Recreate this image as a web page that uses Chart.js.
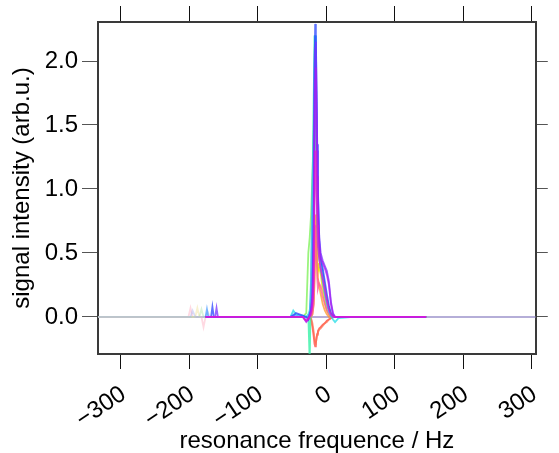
<!DOCTYPE html>
<html>
<head>
<meta charset="utf-8">
<script src="https://cdn.jsdelivr.net/npm/chart.js@4.4.1/dist/chart.umd.min.js"></script>
<style>
  html, body { margin: 0; padding: 0; background: #fff; }
  #wrap { width: 559px; height: 453px; }
</style>
</head>
<body>
<div id="wrap"><canvas id="spectrum" width="559" height="453"></canvas></div>
<script>
// axis texts and tick values
const xTitle = 'resonance frequence / Hz';
const yTitle = 'signal intensity (arb.u.)';
const xTicks = [-300, -200, -100, 0, 100, 200, 300];
const yTicks = [0, 0.5, 1.0, 1.5, 2.0];
const xRange = [-333, 306];
const yRange = [-0.29, 2.305];

// flat grey trace over the whole window
const fullFreq = [-333, 306];
const greyLine = [0, 0];

// faint traces on the left part (Hz)
const edgeFreq = [-333, -201, -198, -195, -191, -188, -185, -182, -179, -176, -173, -170];
const palePink   = [0, 0, 0.07, 0, 0, 0, 0, 0, -0.08, 0, 0, 0];
const paleYellow = [0, 0, 0, 0, 0, 0.07, 0, 0, 0, 0, 0, 0];
const paleGreen  = [0, 0, 0, 0, 0, 0, 0, 0.06, 0, 0, 0, 0];
const paleBlue   = [0, 0, 0, 0.05, 0, 0, 0, 0, 0, 0, 0.04, 0];

// main traces around the resonance (Hz)
const peakFreq = [-176, -174, -172, -168, -166, -164, -162, -160, -158, -120,
                  -70, -52, -48, -44, -34, -29, -26, -24, -22, -20,
                  -18, -17, -16, -15, -14, -13, -12, -10, -8, -5,
                  -2, 1, 4, 7, 10, 13, 18, 40, 100, 146];

const red = [0, 0, 0, 0, 0, 0, 0, 0, 0, 0,
  0, 0, 0, 0, 0, 0, 0, 0, -0.02, -0.08,
  -0.16, -0.21, -0.23, -0.21, -0.16, -0.13, -0.11, -0.09, -0.08, -0.06,
  -0.05, -0.03, -0.02, -0.01, 0, 0, 0, 0, 0, 0];
const tomato = [0, 0, 0, 0, 0, 0, 0, 0, 0, 0,
  0, 0, 0, 0, 0, 0, 0, 0, -0.01, -0.05,
  -0.12, -0.17, -0.19, -0.2, -0.17, -0.14, -0.12, -0.1, -0.09, -0.07,
  -0.05, -0.04, -0.02, -0.01, 0, 0, 0, 0, 0, 0];
const orange = [0, 0, 0, 0, 0, 0, 0, 0, 0, 0,
  0, 0, 0, 0, 0, 0, 0, 0, 0.01, 0.05,
  0.2, 0.45, 0.7, 0.8, 0.62, 0.42, 0.3, 0.24, 0.18, 0.1,
  0.05, 0.02, 0, 0, 0, 0, 0, 0, 0, 0];
const pink = [0, 0, 0, 0, 0, 0, 0, 0, 0, 0,
  0, 0, 0, 0, 0, 0, 0, 0, 0, 0.02,
  0.1, 0.3, 0.55, 0.72, 0.5, 0.3, 0.22, 0.26, 0.24, 0.16,
  0.1, 0.05, 0.02, 0, 0, 0, 0, 0, 0, 0];
const yellow = [0, 0, 0, 0, 0, 0, 0, 0, 0, 0,
  0, 0, 0, 0, 0, 0, 0, 0, 0, 0.02,
  0.12, 0.3, 0.48, 0.6, 0.55, 0.42, 0.36, 0.38, 0.34, 0.22,
  0.12, 0.05, 0.02, 0, 0, 0, 0, 0, 0, 0];
const green = [0, 0, 0, 0, 0, 0, 0, 0, 0, 0,
  0, 0, 0, 0, 0, 0.03, 0.5, 0.62, 0.8, 1.1,
  1.45, 1.6, 1.55, 1.3, 0.95, 0.72, 0.56, 0.45, 0.38, 0.28,
  0.18, 0.1, 0.05, 0.02, 0, 0, 0, 0, 0, 0];
const mint = [0, 0, 0, 0, 0, 0, 0, 0, 0, 0,
  0, 0, 0, 0, 0, 0, 0, -0.35, 0.3, 1.0,
  1.8, 2.2, 2.1, 1.8, 1.3, 0.9, 0.66, 0.5, 0.42, 0.33,
  0.22, 0.14, 0.07, 0.02, 0, 0, 0, 0, 0, 0];
const cyan = [0, 0, 0, 0, 0, 0, 0, 0, 0, 0,
  0, 0, 0.05, 0.02, 0.01, 0, 0.02, 0.05, 0.15, 0.4,
  1.0, 1.75, 2.2, 2.05, 1.5, 1.05, 0.72, 0.5, 0.43, 0.34,
  0.24, 0.14, 0.06, 0.01, -0.02, -0.04, -0.01, 0, 0, 0];
const sky = [0, 0.06, 0, 0, 0, 0, 0, 0, 0, 0,
  0, 0, 0.02, 0.01, 0, 0, 0, 0.03, 0.3, 1.0,
  1.5, 2.0, 2.2, 1.9, 1.4, 0.95, 0.68, 0.47, 0.38, 0.28,
  0.18, 0.1, 0.04, 0.01, 0, 0, 0, 0, 0, 0];
const blue = [0, 0, 0, 0, 0.08, 0, 0, 0, 0, 0,
  0, 0, 0.01, 0.03, 0.01, 0, -0.02, 0.02, 0.05, 0.15,
  0.9, 1.95, 2.29, 2.2, 1.8, 1.35, 1.0, 0.6, 0.46, 0.38,
  0.28, 0.18, 0.09, 0.03, 0.01, 0, 0, 0, 0, 0];
const violet = [0, 0, 0, 0, 0, 0, 0, 0.07, 0, 0,
  0, 0, 0, 0, 0, -0.03, -0.02, 0.02, 0.06, 0.2,
  0.8, 1.7, 2.1, 2.15, 1.75, 1.3, 0.95, 0.62, 0.5, 0.44,
  0.4, 0.36, 0.28, 0.12, 0.03, 0, 0, 0, 0, 0];
const purple = [0, 0, 0, 0, 0, 0, 0, 0, 0, 0,
  0, 0, 0, 0, 0, -0.04, -0.02, 0.01, 0.04, 0.12,
  0.55, 1.3, 1.85, 1.95, 1.5, 1.1, 0.8, 0.55, 0.46, 0.42,
  0.38, 0.33, 0.25, 0.1, 0.02, 0, 0, 0, 0, 0];
const magenta = [0, 0, 0, 0, 0, 0, 0, 0, 0, 0,
  0, 0, 0, 0, 0, -0.03, -0.01, 0, 0.02, 0.08,
  0.3, 0.85, 1.3, 1.25, 1.0, 0.72, 0.55, 0.45, 0.38, 0.3,
  0.22, 0.13, 0.06, 0.02, 0, 0, 0, 0, 0, 0];

// drawing order: first = bottom
const traces = [
  [fullFreq, greyLine, 'rgba(150,140,200,0.7)'],
  [edgeFreq, palePink, 'rgba(255,170,190,0.45)'],
  [edgeFreq, paleYellow, 'rgba(240,225,150,0.45)'],
  [edgeFreq, paleGreen, 'rgba(170,230,170,0.45)'],
  [edgeFreq, paleBlue, 'rgba(170,180,240,0.45)'],
  [peakFreq, red, 'rgba(255,70,60,0.75)'],
  [peakFreq, tomato, 'rgba(255,110,80,0.7)'],
  [peakFreq, orange, 'rgba(255,150,40,0.75)'],
  [peakFreq, yellow, 'rgba(235,220,0,0.8)'],
  [peakFreq, pink, 'rgba(255,90,150,0.75)'],
  [peakFreq, green, 'rgba(120,240,80,0.75)'],
  [peakFreq, mint, 'rgba(40,240,160,0.75)'],
  [peakFreq, cyan, 'rgba(30,220,230,0.75)'],
  [peakFreq, sky, 'rgba(80,160,255,0.75)'],
  [peakFreq, blue, 'rgba(40,70,255,0.75)'],
  [peakFreq, violet, 'rgba(120,50,255,0.75)'],
  [peakFreq, purple, 'rgba(170,30,240,0.75)'],
  [peakFreq, magenta, 'rgba(230,20,210,0.75)']
];

const FONT = "'Liberation Sans', Arial, Helvetica, sans-serif";

// chart.js draws the first dataset on top, so reverse
const datasets = traces.map(([f, v, c], n) => ({
  data: f.map((x, i) => ({ x: x, y: v[i] })),
  borderColor: c,
  borderWidth: n === 0 ? 2 : 1.8,
  pointRadius: 0,
  tension: 0,
  fill: false
})).reverse();

function fixTicks(values) {
  return scale => { scale.ticks = values.map(v => ({ value: v })); };
}

function frame(tickLength, tickColor) {
  return { drawOnChartArea: false, drawTicks: true, tickLength: tickLength, tickColor: tickColor, tickWidth: 1, color: tickColor };
}
const border = { display: true, color: '#3a3a3a', width: 2 };

new Chart(document.getElementById('spectrum'), {
  type: 'line',
  data: { datasets: datasets },
  options: {
    responsive: false,
    animation: false,
    layout: { padding: 0 },
    plugins: { legend: { display: false }, tooltip: { enabled: false } },
    scales: {
      x: {
        type: 'linear', position: 'bottom', min: xRange[0], max: xRange[1],
        afterBuildTicks: fixTicks(xTicks),
        afterFit: s => { s.height = 99; },
        grid: frame(15, '#111'), border: border,
        ticks: {
          autoSkip: false, minRotation: 34, maxRotation: 34, padding: 11, labelOffset: 3,
          color: '#000', font: { family: FONT, size: 24 },
          callback: v => v < 0 ? '\u2212' + Math.abs(v) : String(v)
        },
        title: { display: true, text: xTitle, color: '#000', font: { family: FONT, size: 24 }, padding: { top: 0, bottom: -3 } }
      },
      x2: {
        type: 'linear', position: 'top', min: xRange[0], max: xRange[1],
        afterBuildTicks: fixTicks(xTicks),
        afterFit: s => { s.height = 22; },
        grid: frame(16, '#111'), border: border,
        ticks: { display: false }
      },
      y: {
        type: 'linear', position: 'left', min: yRange[0], max: yRange[1],
        afterBuildTicks: fixTicks(yTicks),
        afterFit: s => { s.width = 98; },
        grid: frame(16, '#555'), border: border,
        ticks: { padding: 4, color: '#000', font: { family: FONT, size: 24 }, callback: v => v.toFixed(1) },
        title: { display: true, text: yTitle, color: '#000', font: { family: FONT, size: 24 }, padding: { top: 8, bottom: 0 } }
      },
      y2: {
        type: 'linear', position: 'right', min: yRange[0], max: yRange[1],
        afterBuildTicks: fixTicks(yTicks),
        afterFit: s => { s.width = 12; },
        grid: frame(12, '#555'), border: border,
        ticks: { display: false }
      }
    }
  }
});
</script>
</body>
</html>
